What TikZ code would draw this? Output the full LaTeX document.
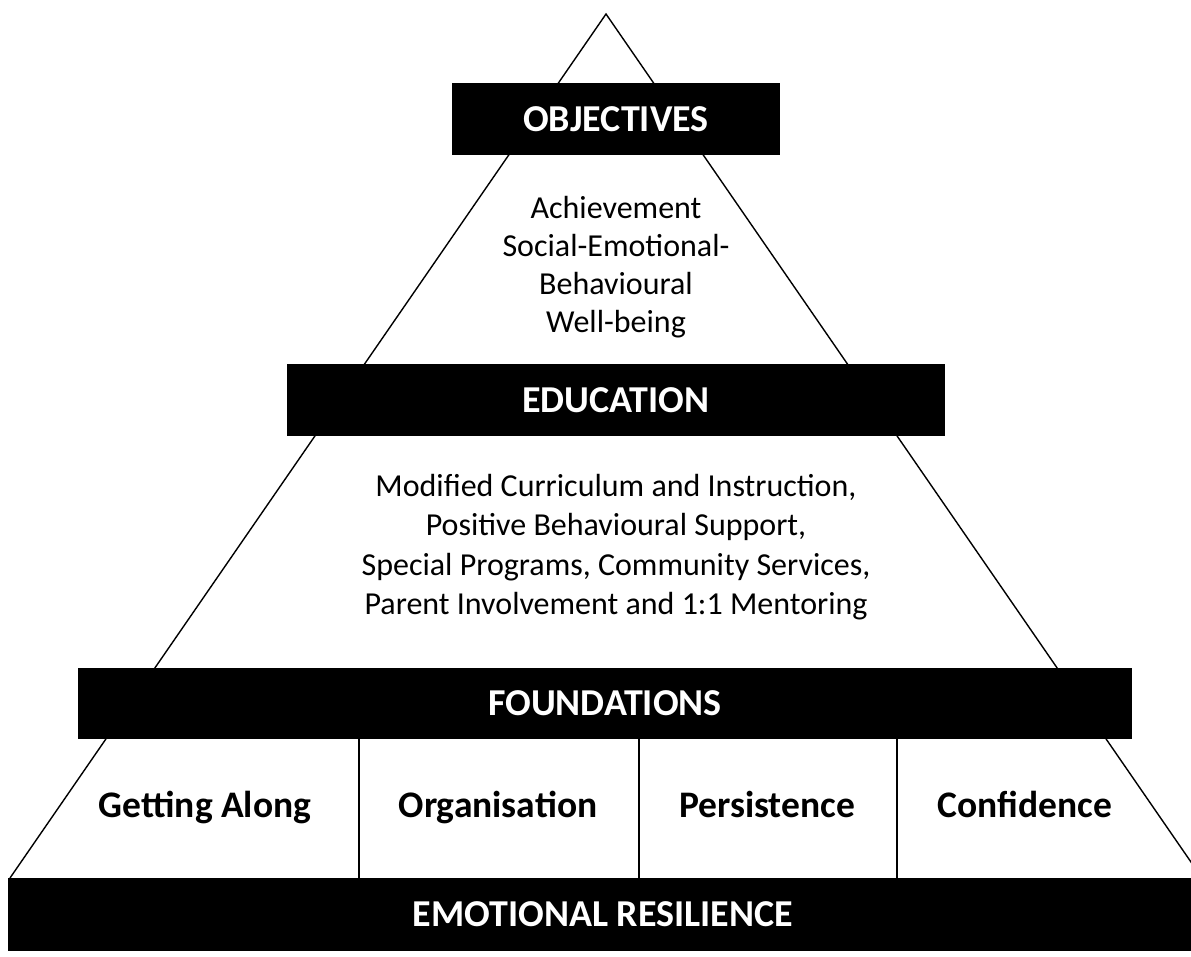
\documentclass[tikz,border=0pt]{standalone}
\usepackage{fontspec}
\setmainfont{Carlito}
\usetikzlibrary{positioning}
\tikzset{
bar/.style={fill=black, text=white, font=\fontsize{38}{44}\selectfont\bfseries, minimum height=72, inner sep=0pt},
body/.style={align=center, font=\fontsize{32}{38}\selectfont, inner sep=0pt},
cell/.style={font=\fontsize{37.5}{44}\selectfont\bfseries, inner sep=0pt, anchor=base},
edge/.style={line width=1.4}
}
\begin{document}
\begin{tikzpicture}[x=1pt, y=-1pt]
  \useasboundingbox (0,0) rectangle (1191,956);
  \clip (0,0) rectangle (1191,956);
  % pyramid outline
  \coordinate (apex) at (606,14);
  \coordinate (bl) at (10,878);
  \coordinate (br) at (1202,878);
  \draw[edge] (bl) -- (apex) -- (br);
  % levels
  \node[bar, minimum width=328] (obj) at (616,119) {OBJECTIVES};
  \node[body] (objtxt) at (616,267) {Achievement\\Social-Emotional-\\Behavioural\\Well-being};
  \node[bar, minimum width=658] (edu) at (616,400) {EDUCATION};
  \node[body, font=\fontsize{32}{39.5}\selectfont] (edutxt) at (616,547) {Modified Curriculum and Instruction,\\Positive Behavioural Support,\\Special Programs, Community Services,\\Parent Involvement and 1:1 Mentoring};
  \node[bar, minimum width=1054, minimum height=71] (fnd) at (605,703.5) {FOUNDATIONS};
  \node[bar, minimum width=1190, minimum height=73] (emo) at (603,914.5) {EMOTIONAL RESILIENCE};
  % foundation cells
  \foreach \x in {359,639,897}
    \draw[edge] (fnd.south -| \x,0) -- (emo.north -| \x,0);
  \foreach \x/\name/\t in {205/ga/Getting Along, 498/org/Organisation, 767/per/Persistence, 1025/con/Confidence}
    \node[cell] (\name) at (\x,817) {\t};
\end{tikzpicture}
\end{document}
